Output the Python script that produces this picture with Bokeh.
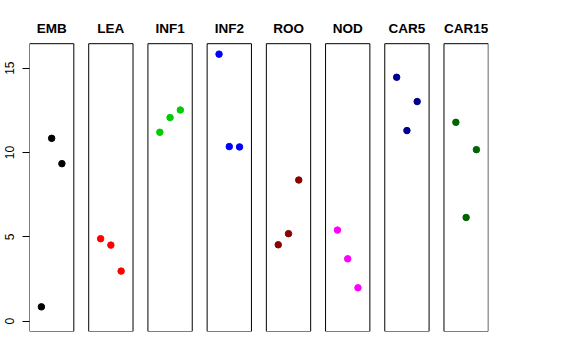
from bokeh.plotting import figure
from bokeh.models import Range1d, FixedTicker
from bokeh.core.properties import value
from bokeh.embed import file_html
from bokeh.resources import INLINE

panels = ["EMB", "LEA", "INF1", "INF2", "ROO", "NOD", "CAR5", "CAR15"]
colors = ["#000000", "#FF0000", "#00CD00", "#0000FF", "#8B0000", "#FF00FF", "#00008B", "#006400"]
emb = [0.85, 10.84, 9.34]
lea = [4.89, 4.51, 2.97]
inf1 = [11.20, 12.07, 12.52]
inf2 = [15.83, 10.35, 10.33]
roo = [4.53, 5.19, 8.37]
nod = [5.40, 3.70, 1.98]
car5 = [14.46, 11.30, 13.02]
car15 = [11.79, 6.15, 10.17]
series = [emb, lea, inf1, inf2, roo, nod, car5, car15]
positions = [1, 2, 3]
y_ticks = [0, 5, 10, 15]

# layout constants
offset = 5.772          # distance between panels in x units
pad = 0.16              # panel padding in x units
ymin, ymax = -0.61, 16.45
title_y = 17.36

xs, ys, cs = [], [], []
for i, vals in enumerate(series):
    for j, v in zip(positions, vals):
        xs.append(i * offset + j)
        ys.append(v)
        cs.append(colors[i])

lefts = [i * offset - pad for i in range(len(panels))]
rights = [i * offset + 4 + pad for i in range(len(panels))]
centers = [i * offset + 2 for i in range(len(panels))]

p = figure(width=560, height=344, output_backend="svg", toolbar_location=None,
           x_range=Range1d(-pad, 7 * offset + 4 + pad + 0.02),
           y_range=Range1d(ymin, 19.01),
           min_border_left=29, min_border_right=72, min_border_top=0, min_border_bottom=13,
           x_axis_location=None)
p.outline_line_color = None
p.grid.visible = False
p.background_fill_color = "white"
p.border_fill_color = "white"

p.quad(left=lefts, right=rights, bottom=[ymin] * len(panels), top=[ymax] * len(panels),
       fill_color=None, line_color="#000000", line_width=1)

p.scatter(x=xs, y=ys, size=6.5, fill_color=cs, line_color=cs)

p.text(x=centers, y=[title_y] * len(panels), text=panels, text_align="center",
       text_baseline="alphabetic", text_font=value("Liberation Sans"),
       text_font_style="bold", text_font_size="13.5px", text_color="#000000")

ax = p.yaxis[0]
ax.ticker = FixedTicker(ticks=y_ticks)
ax.major_label_orientation = "vertical"
ax.major_tick_out = 7
ax.major_tick_in = 0
ax.minor_tick_line_color = None
ax.axis_line_color = None
ax.major_tick_line_color = "#000000"
ax.major_label_standoff = 8
ax.major_label_text_font = "Liberation Sans"
ax.major_label_text_font_size = "12px"
ax.major_label_text_color = "#000000"

open("out.html", "w").write(file_html(p, INLINE))
